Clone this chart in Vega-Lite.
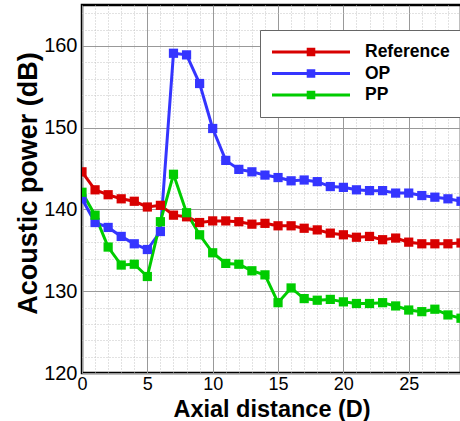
{
  "$schema": "https://vega.github.io/schema/vega-lite/v6.json",
  "width": 379,
  "height": 368,
  "autosize": "none",
  "padding": {"left": 82, "top": 5, "right": 0, "bottom": 48},
  "config": {
    "font": "Liberation Sans",
    "view": {"stroke": "black", "strokeWidth": 2.5}
  },
  "data": {"values": [
    {"x":0,"s":"Reference","y":144.6},{"x":1,"s":"Reference","y":142.4},{"x":2,"s":"Reference","y":141.8},{"x":3,"s":"Reference","y":141.3},{"x":4,"s":"Reference","y":141.0},{"x":5,"s":"Reference","y":140.3},{"x":6,"s":"Reference","y":140.5},{"x":7,"s":"Reference","y":139.3},{"x":8,"s":"Reference","y":139.1},{"x":9,"s":"Reference","y":138.4},{"x":10,"s":"Reference","y":138.6},{"x":11,"s":"Reference","y":138.6},{"x":12,"s":"Reference","y":138.5},{"x":13,"s":"Reference","y":138.2},{"x":14,"s":"Reference","y":138.3},{"x":15,"s":"Reference","y":138.0},{"x":16,"s":"Reference","y":138.0},{"x":17,"s":"Reference","y":137.7},{"x":18,"s":"Reference","y":137.5},{"x":19,"s":"Reference","y":137.1},{"x":20,"s":"Reference","y":136.9},{"x":21,"s":"Reference","y":136.6},{"x":22,"s":"Reference","y":136.7},{"x":23,"s":"Reference","y":136.3},{"x":24,"s":"Reference","y":136.5},{"x":25,"s":"Reference","y":136.0},{"x":26,"s":"Reference","y":135.8},{"x":27,"s":"Reference","y":135.8},{"x":28,"s":"Reference","y":135.8},{"x":29,"s":"Reference","y":135.9},
    {"x":0,"s":"OP","y":141.3},{"x":1,"s":"OP","y":138.4},{"x":2,"s":"OP","y":137.8},{"x":3,"s":"OP","y":136.7},{"x":4,"s":"OP","y":135.8},{"x":5,"s":"OP","y":135.1},{"x":6,"s":"OP","y":137.3},{"x":7,"s":"OP","y":159.1},{"x":8,"s":"OP","y":158.9},{"x":9,"s":"OP","y":155.4},{"x":10,"s":"OP","y":149.9},{"x":11,"s":"OP","y":146.0},{"x":12,"s":"OP","y":144.9},{"x":13,"s":"OP","y":144.6},{"x":14,"s":"OP","y":144.2},{"x":15,"s":"OP","y":143.9},{"x":16,"s":"OP","y":143.5},{"x":17,"s":"OP","y":143.6},{"x":18,"s":"OP","y":143.4},{"x":19,"s":"OP","y":142.8},{"x":20,"s":"OP","y":142.7},{"x":21,"s":"OP","y":142.4},{"x":22,"s":"OP","y":142.3},{"x":23,"s":"OP","y":142.3},{"x":24,"s":"OP","y":142.0},{"x":25,"s":"OP","y":142.0},{"x":26,"s":"OP","y":141.7},{"x":27,"s":"OP","y":141.5},{"x":28,"s":"OP","y":141.3},{"x":29,"s":"OP","y":141.0},
    {"x":0,"s":"PP","y":142.1},{"x":1,"s":"PP","y":139.3},{"x":2,"s":"PP","y":135.4},{"x":3,"s":"PP","y":133.2},{"x":4,"s":"PP","y":133.3},{"x":5,"s":"PP","y":131.8},{"x":6,"s":"PP","y":138.5},{"x":7,"s":"PP","y":144.3},{"x":8,"s":"PP","y":139.6},{"x":9,"s":"PP","y":136.9},{"x":10,"s":"PP","y":134.7},{"x":11,"s":"PP","y":133.4},{"x":12,"s":"PP","y":133.3},{"x":13,"s":"PP","y":132.5},{"x":14,"s":"PP","y":132.0},{"x":15,"s":"PP","y":128.6},{"x":16,"s":"PP","y":130.4},{"x":17,"s":"PP","y":129.1},{"x":18,"s":"PP","y":128.9},{"x":19,"s":"PP","y":129.0},{"x":20,"s":"PP","y":128.7},{"x":21,"s":"PP","y":128.5},{"x":22,"s":"PP","y":128.5},{"x":23,"s":"PP","y":128.6},{"x":24,"s":"PP","y":128.2},{"x":25,"s":"PP","y":127.7},{"x":26,"s":"PP","y":127.5},{"x":27,"s":"PP","y":127.8},{"x":28,"s":"PP","y":127.1},{"x":29,"s":"PP","y":126.7}
  ]},
  "mark": {
    "type": "line",
    "strokeWidth": 3,
    "clip": true,
    "point": {"shape": "square", "size": 85, "filled": true, "opacity": 1}
  },
  "encoding": {
    "x": {
      "field": "x",
      "type": "quantitative",
      "scale": {"domain": [0, 29], "nice": false, "zero": false},
      "axis": {
        "title": "Axial distance (D)",
        "titleFontSize": 23.5,
        "titleFontWeight": "bold",
        "titleColor": "black",
        "titleY": 43.5,
        "titleBaseline": "alphabetic",
        "values": [0,1,2,3,4,5,6,7,8,9,10,11,12,13,14,15,16,17,18,19,20,21,22,23,24,25,26,27,28,29],
        "labelExpr": "datum.value % 5 === 0 ? datum.label : ''",
        "labelFontSize": 18,
        "labelColor": "black",
        "labelPadding": 2,
        "labelFlush": false,
        "labelOverlap": false,
        "ticks": false,
        "domain": false,
        "grid": true,
        "gridColor": {"condition": {"test": "datum.value % 5 === 0", "value": "#999999"}, "value": "#c4c4c4"},
        "gridDash": {"condition": {"test": "datum.value % 5 === 0", "value": []}, "value": [1, 2]},
        "gridOpacity": 1,
        "gridWidth": 1
      }
    },
    "y": {
      "field": "y",
      "type": "quantitative",
      "scale": {"domain": [120, 165], "nice": false, "zero": false},
      "axis": {
        "title": "Acoustic power (dB)",
        "titleFontSize": 27,
        "titleFontWeight": "bold",
        "titleColor": "black",
        "titleAngle": 270,
        "titleX": -46,
        "titleY": 178,
        "titleBaseline": "alphabetic",
        "titleAlign": "center",
        "values": [120,122,124,126,128,130,132,134,136,138,140,142,144,146,148,150,152,154,156,158,160,162,164],
        "labelExpr": "datum.value % 10 === 0 ? datum.label : ''",
        "labelFontSize": 20,
        "labelColor": "black",
        "labelPadding": 5,
        "labelFlush": false,
        "labelOverlap": false,
        "ticks": false,
        "domain": false,
        "grid": true,
        "gridColor": {"condition": {"test": "datum.value % 10 === 0", "value": "#999999"}, "value": "#c4c4c4"},
        "gridDash": {"condition": {"test": "datum.value % 10 === 0", "value": []}, "value": [1, 2]},
        "gridOpacity": 1,
        "gridWidth": 1
      }
    },
    "color": {
      "field": "s",
      "type": "nominal",
      "sort": ["Reference", "OP", "PP"],
      "scale": {"domain": ["Reference", "OP", "PP"], "range": ["#d80000", "#3535ff", "#00cc00"]},
      "legend": {
        "orient": "none",
        "legendX": 178,
        "legendY": 25,
        "title": null,
        "padding": 12,
        "strokeColor": "#666666",
        "fillColor": "white",
        "cornerRadius": 0,
        "labelFontSize": 17.5,
        "labelFontWeight": "bold",
        "labelColor": "black",
        "labelOffset": 15,
        "labelLimit": 200,
        "rowPadding": 1.5,
        "clipHeight": 20,
        "symbolType": "M-1,-0.04H1V0.04H-1Z M-0.11,-0.11H0.11V0.11H-0.11Z",
        "symbolSize": 6084,
        "symbolStrokeWidth": 0,
        "symbolOpacity": 1,
        "encode": {
          "symbols": {"update": {"fill": {"scale": "color", "field": "value"}, "strokeWidth": {"value": 0}, "opacity": {"value": 1}}}
        }
      }
    }
  }
}
